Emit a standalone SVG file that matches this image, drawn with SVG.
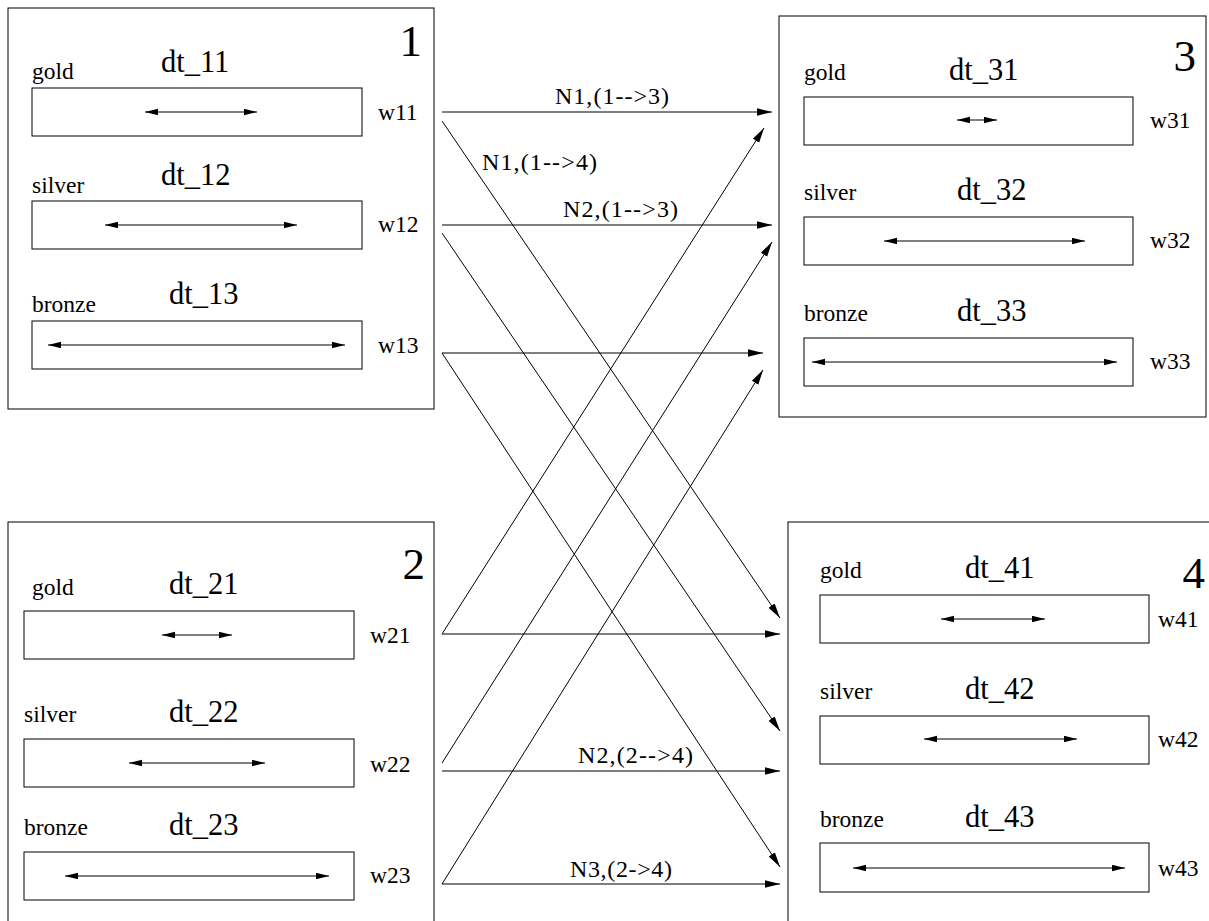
<svg xmlns="http://www.w3.org/2000/svg" width="1209" height="921" viewBox="0 0 1209 921">
  <style>
    .frame { fill: none; stroke: #000; stroke-width: 1; }
    .slot { fill: none; stroke: #000; stroke-width: 1; }
    .span { stroke: #000; stroke-width: 1; marker-start: url(#tip-s); marker-end: url(#tip-s); }
    .link { stroke: #000; stroke-width: 1; fill: none; marker-end: url(#tip); }
    text { font-family: "Liberation Serif", "Times New Roman", serif; fill: #000; }
    .num { font-size: 45px; text-anchor: end; }
    .tier { font-size: 23.5px; }
    .dt { font-size: 30.5px; }
    .w { font-size: 23.5px; }
    .lbl { font-size: 24px; }
  </style>
  <defs>
    <marker id="tip" markerUnits="userSpaceOnUse" markerWidth="15" markerHeight="8" refX="15" refY="3.75" orient="auto">
      <path d="M0,0 L15,3.75 L0,7.5 z" fill="#000"/>
    </marker>
    <marker id="tip-s" markerUnits="userSpaceOnUse" markerWidth="13" markerHeight="7" refX="13" refY="3.25" orient="auto-start-reverse">
      <path d="M0,0 L13,3.25 L0,6.5 z" fill="#000"/>
    </marker>
  </defs>

  <rect width="1209" height="921" fill="#fff"/>

  <!-- Node 1 -->
  <g id="node1">
    <rect class="frame" x="8" y="8" width="426" height="401"/>
    <text class="num" x="422" y="56">1</text>
    <text class="tier" x="32" y="79">gold</text>
    <text class="dt" x="161" y="72">dt_11</text>
    <rect class="slot" x="32" y="88" width="330" height="48"/>
    <line class="span" x1="145" y1="112" x2="257" y2="112"/>
    <text class="w" x="378" y="120">w11</text>
    <text class="tier" x="32" y="193">silver</text>
    <text class="dt" x="161" y="185">dt_12</text>
    <rect class="slot" x="32" y="201" width="330" height="48"/>
    <line class="span" x1="105" y1="225" x2="297" y2="225"/>
    <text class="w" x="378" y="232">w12</text>
    <text class="tier" x="32" y="312">bronze</text>
    <text class="dt" x="169" y="304">dt_13</text>
    <rect class="slot" x="32" y="321" width="330" height="48"/>
    <line class="span" x1="48" y1="345" x2="345" y2="345"/>
    <text class="w" x="378" y="353">w13</text>
  </g>

  <!-- Node 2 -->
  <g id="node2">
    <rect class="frame" x="8" y="522" width="426" height="420"/>
    <text class="num" x="425" y="579">2</text>
    <text class="tier" x="32" y="595">gold</text>
    <text class="dt" x="169" y="594">dt_21</text>
    <rect class="slot" x="24" y="611" width="330" height="48"/>
    <line class="span" x1="162" y1="635" x2="232" y2="635"/>
    <text class="w" x="370" y="643">w21</text>
    <text class="tier" x="24" y="722">silver</text>
    <text class="dt" x="169" y="722">dt_22</text>
    <rect class="slot" x="24" y="739" width="330" height="48"/>
    <line class="span" x1="129" y1="763" x2="265" y2="763"/>
    <text class="w" x="370" y="772">w22</text>
    <text class="tier" x="24" y="835">bronze</text>
    <text class="dt" x="169" y="835">dt_23</text>
    <rect class="slot" x="24" y="852" width="330" height="48"/>
    <line class="span" x1="65" y1="876" x2="329" y2="876"/>
    <text class="w" x="370" y="883">w23</text>
  </g>

  <!-- Node 3 -->
  <g id="node3">
    <rect class="frame" x="779" y="16" width="427" height="401"/>
    <text class="num" x="1196" y="71">3</text>
    <text class="tier" x="804" y="80">gold</text>
    <text class="dt" x="949" y="80">dt_31</text>
    <rect class="slot" x="804" y="97" width="329" height="48"/>
    <line class="span" x1="957" y1="120" x2="997" y2="120"/>
    <text class="w" x="1150" y="128">w31</text>
    <text class="tier" x="804" y="200">silver</text>
    <text class="dt" x="957" y="200">dt_32</text>
    <rect class="slot" x="804" y="217" width="329" height="48"/>
    <line class="span" x1="884" y1="241" x2="1085" y2="241"/>
    <text class="w" x="1150" y="248">w32</text>
    <text class="tier" x="804" y="321">bronze</text>
    <text class="dt" x="957" y="321">dt_33</text>
    <rect class="slot" x="804" y="338" width="329" height="48"/>
    <line class="span" x1="812" y1="362" x2="1117" y2="362"/>
    <text class="w" x="1150" y="369">w33</text>
  </g>

  <!-- Node 4 -->
  <g id="node4">
    <rect class="frame" x="788" y="522" width="430" height="420"/>
    <text class="num" x="1205" y="588">4</text>
    <text class="tier" x="820" y="578">gold</text>
    <text class="dt" x="965" y="578">dt_41</text>
    <rect class="slot" x="820" y="595" width="329" height="48"/>
    <line class="span" x1="941" y1="619" x2="1045" y2="619"/>
    <text class="w" x="1158" y="627">w41</text>
    <text class="tier" x="820" y="699">silver</text>
    <text class="dt" x="965" y="699">dt_42</text>
    <rect class="slot" x="820" y="716" width="329" height="48"/>
    <line class="span" x1="924" y1="739" x2="1077" y2="739"/>
    <text class="w" x="1158" y="747">w42</text>
    <text class="tier" x="820" y="827">bronze</text>
    <text class="dt" x="965" y="827">dt_43</text>
    <rect class="slot" x="820" y="843" width="329" height="49"/>
    <line class="span" x1="853" y1="868" x2="1125" y2="868"/>
    <text class="w" x="1158" y="876">w43</text>
  </g>

  <!-- Connectors between the nodes -->
  <g id="connectors">
    <line class="link" x1="442" y1="112" x2="772" y2="112"/>
    <line class="link" x1="442" y1="121" x2="780" y2="618"/>
    <line class="link" x1="442" y1="225" x2="772" y2="225"/>
    <line class="link" x1="442" y1="233" x2="780" y2="731"/>
    <line class="link" x1="442" y1="353" x2="763" y2="353"/>
    <line class="link" x1="442" y1="353" x2="780" y2="867"/>
    <line class="link" x1="442" y1="634" x2="780" y2="634"/>
    <line class="link" x1="442" y1="634" x2="764" y2="128"/>
    <line class="link" x1="442" y1="771" x2="780" y2="771"/>
    <line class="link" x1="442" y1="763" x2="772" y2="242"/>
    <line class="link" x1="442" y1="884" x2="780" y2="884"/>
    <line class="link" x1="442" y1="884" x2="763" y2="370"/>
    <text class="lbl" x="555" y="104" textLength="114" lengthAdjust="spacing">N1,(1-->3)</text>
    <text class="lbl" x="482" y="170" textLength="115" lengthAdjust="spacing">N1,(1-->4)</text>
    <text class="lbl" x="563" y="217" textLength="115" lengthAdjust="spacing">N2,(1-->3)</text>
    <text class="lbl" x="578" y="763" textLength="115" lengthAdjust="spacing">N2,(2-->4)</text>
    <text class="lbl" x="570" y="877" textLength="102" lengthAdjust="spacing">N3,(2->4)</text>
  </g>
</svg>
